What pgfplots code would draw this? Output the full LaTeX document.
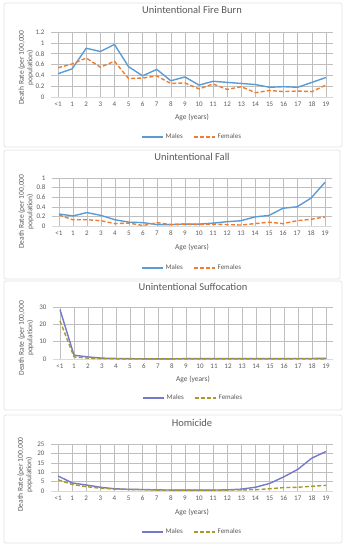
\documentclass[border=0pt]{standalone}
\usepackage{pgfplots}
\pgfplotsset{compat=1.18}
\usepackage{fontspec}
\setmainfont{Carlito}
\definecolor{txt}{HTML}{595959}
\definecolor{grid}{HTML}{D9D9D9}
\definecolor{box}{HTML}{E3E3E3}
\definecolor{mblue}{HTML}{5B9BD5}
\definecolor{forange}{HTML}{ED7D31}
\definecolor{mpurple}{HTML}{7479C9}
\definecolor{folive}{HTML}{A89B2A}
\pgfplotsset{
  panel/.style={
    scale only axis, width=282pt, anchor=north west,
    xmin=-0.5, xmax=19.5,
    xtick={0,...,19},
    xticklabels={<1,1,2,3,4,5,6,7,8,9,10,11,12,13,14,15,16,17,18,19},
    ymin=0,
    axis x line*=bottom, axis y line*=left,
    x axis line style={draw=grid, -},
    y axis line style={draw=none},
    xtick style={draw=none}, ytick style={draw=none},
    ymajorgrids, grid style={grid, line width=0.5pt},
    tick label style={font=\fontsize{7}{8}\selectfont, text=txt},
    /pgf/number format/assume math mode=true,
    xticklabel style={yshift=-1pt},
    yticklabel style={xshift=-3pt},
    xlabel={Age (years)},
    ylabel={Death Rate (per 100,000\\population)},
    label style={font=\fontsize{7.5}{8.5}\selectfont, text=txt},
    ylabel style={align=center, anchor=center},
    title style={font=\fontsize{10.5}{12}\selectfont, text=txt, anchor=center},
    legend columns=2,
    legend style={draw=none, fill=none, font=\fontsize{7}{8}\selectfont, text=txt, anchor=center,
      /tikz/every even column/.append style={column sep=8pt}},
    legend image code/.code={\draw[#1] (0cm,0cm) -- (0.75cm,0cm);},
  },
  mline/.style={line width=1.4pt, line join=round},
  fline/.style={line width=1.4pt, line join=round, dash pattern=on 4pt off 2.2pt},
}
\begin{document}
\begin{tikzpicture}
\path[use as bounding box] (0,0) rectangle (348pt,-550pt);
\draw[box, line width=0.8pt, rounded corners=1.5pt] (4pt,-3pt) rectangle (342pt,-147pt);
\draw[box, line width=0.8pt, rounded corners=1.5pt] (4pt,-150pt) rectangle (340pt,-279pt);
\draw[box, line width=0.8pt, rounded corners=1.5pt] (4pt,-281pt) rectangle (342pt,-410pt);
\draw[box, line width=0.8pt, rounded corners=1.5pt] (4pt,-415pt) rectangle (342pt,-543pt);

% Panel 1
\begin{axis}[panel, at={(51pt,-32pt)}, height=65pt, ymax=1.2,
  ytick={0,0.2,...,1.2},
  yticklabels={0,0.2,0.4,0.6,0.8,1,1.2},
  title={Unintentional Fire Burn},
  title style={at={(axis description cs:0.5,{1+16/65})}},
  xlabel style={at={(axis description cs:0.5,{-20/65})}, anchor=center},
  ylabel style={at={(axis description cs:{-25/282},0.45)}},
  legend style={at={(axis description cs:0.5,{-40/65})}},
]
\addplot[mline, mblue] coordinates {(0,0.43)(1,0.52)(2,0.90)(3,0.84)(4,0.97)(5,0.56)(6,0.39)(7,0.51)(8,0.30)(9,0.37)(10,0.22)(11,0.29)(12,0.27)(13,0.25)(14,0.23)(15,0.18)(16,0.19)(17,0.18)(18,0.27)(19,0.36)};
\addplot[fline, forange] coordinates {(0,0.54)(1,0.61)(2,0.72)(3,0.55)(4,0.66)(5,0.34)(6,0.35)(7,0.39)(8,0.25)(9,0.26)(10,0.15)(11,0.24)(12,0.14)(13,0.19)(14,0.08)(15,0.12)(16,0.10)(17,0.11)(18,0.10)(19,0.22)};
\legend{Males,Females}
\end{axis}

% Panel 2
\begin{axis}[panel, at={(52pt,-178pt)}, height=48pt, ymax=1, width=280pt,
  ytick={0,0.2,...,1},
  yticklabels={0,0.2,0.4,0.6,0.8,1},
  title={Unintentional Fall},
  title style={at={(axis description cs:0.5,{1+15/48})}},
  xlabel style={at={(axis description cs:0.5,{-21/48})}, anchor=center},
  ylabel style={at={(axis description cs:{-26/280},0.3)}},
  legend style={at={(axis description cs:0.5,{-42/48})}},
]
\addplot[mline, mblue] coordinates {(0,0.25)(1,0.21)(2,0.28)(3,0.22)(4,0.13)(5,0.08)(6,0.07)(7,0.03)(8,0.03)(9,0.04)(10,0.04)(11,0.06)(12,0.09)(13,0.11)(14,0.19)(15,0.22)(16,0.37)(17,0.40)(18,0.58)(19,0.91)};
\addplot[fline, forange] coordinates {(0,0.23)(1,0.13)(2,0.13)(3,0.11)(4,0.05)(5,0.06)(6,0.01)(7,0.07)(8,0.03)(9,0.04)(10,0.03)(11,0.04)(12,0.03)(13,0.02)(14,0.05)(15,0.08)(16,0.05)(17,0.11)(18,0.14)(19,0.19)};
\legend{Males,Females}
\end{axis}

% Panel 3
\begin{axis}[panel, at={(53pt,-307pt)}, height=52pt, ymax=30, width=280pt,
  ytick={0,10,20,30},
  title={Unintentional Suffocation},
  title style={at={(axis description cs:0.5,{1+14/52})}},
  xlabel style={at={(axis description cs:0.5,{-20/52})}, anchor=center},
  ylabel style={at={(axis description cs:{-27/280},0.4)}},
  legend style={at={(axis description cs:0.5,{-39/52})}},
]
\addplot[mline, mpurple] coordinates {(0,28.5)(1,2.2)(2,1.2)(3,0.5)(4,0.3)(5,0.2)(6,0.1)(7,0.1)(8,0.1)(9,0.2)(10,0.2)(11,0.2)(12,0.2)(13,0.2)(14,0.2)(15,0.2)(16,0.2)(17,0.3)(18,0.3)(19,0.4)};
\addplot[fline, folive] coordinates {(0,22)(1,1.2)(2,0.5)(3,0.2)(4,0.1)(5,0.1)(6,0.1)(7,0.1)(8,0.1)(9,0.1)(10,0.1)(11,0.1)(12,0.1)(13,0.1)(14,0.1)(15,0.1)(16,0.1)(17,0.1)(18,0.1)(19,0.1)};
\legend{Males,Females}
\end{axis}

% Panel 4
\begin{axis}[panel, at={(51pt,-444pt)}, height=47pt, ymax=25,
  ytick={0,5,...,25},
  title={Homicide},
  title style={at={(axis description cs:0.5,{1+15/47})}},
  xlabel style={at={(axis description cs:0.5,{-21/47})}, anchor=center},
  ylabel style={at={(axis description cs:{-26/282},0.35)}},
  legend style={at={(axis description cs:0.5,{-41/47})}},
]
\addplot[mline, mpurple] coordinates {(0,8)(1,4.3)(2,3.2)(3,2.0)(4,1.2)(5,0.9)(6,0.8)(7,0.6)(8,0.5)(9,0.5)(10,0.5)(11,0.5)(12,0.6)(13,1.0)(14,2.0)(15,4.0)(16,7.5)(17,11.5)(18,17.5)(19,21)};
\addplot[fline, folive] coordinates {(0,6)(1,3.5)(2,2.3)(3,1.5)(4,1.0)(5,0.8)(6,0.7)(7,0.5)(8,0.5)(9,0.5)(10,0.5)(11,0.5)(12,0.5)(13,0.6)(14,0.7)(15,1.2)(16,1.8)(17,2.0)(18,2.5)(19,3.0)};
\legend{Males,Females}
\end{axis}
\end{tikzpicture}
\end{document}
